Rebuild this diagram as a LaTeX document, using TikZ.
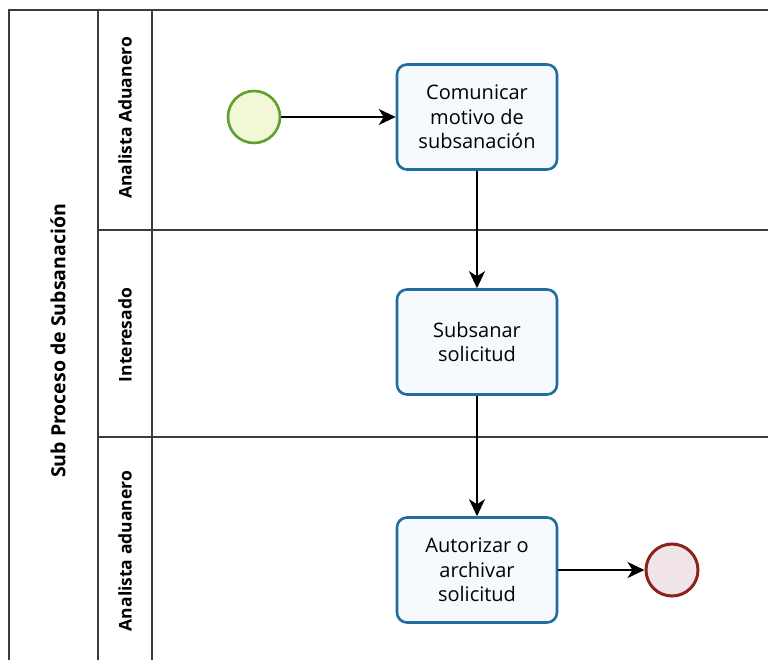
\documentclass[tikz,border=0pt]{standalone}
\usepackage{fontspec}
\setmainfont{Open Sans}
\usetikzlibrary{arrows.meta}
\definecolor{taskblue}{RGB}{30,110,160}
\definecolor{taskfill}{RGB}{246,250,253}
\definecolor{startgreen}{RGB}{95,160,45}
\definecolor{startfill}{RGB}{242,247,215}
\definecolor{endred}{RGB}{140,35,25}
\definecolor{endfill}{RGB}{240,228,232}
\definecolor{poolline}{RGB}{60,60,60}
\tikzset{
  poolline/.style={draw=poolline, line width=1.4pt},
  task/.style={draw=taskblue, fill=taskfill, line width=2.6pt, rounded corners=10pt,
    minimum width=160pt, minimum height=105pt, align=center,
    font=\fontsize{20}{24.5}\selectfont, inner sep=2pt},
  startev/.style={circle, draw=startgreen, fill=startfill, line width=2.6pt, minimum size=52pt, inner sep=0pt},
  endev/.style={circle, draw=endred, fill=endfill, line width=3pt, minimum size=52pt, inner sep=0pt},
  flow/.style={draw=black, line width=1.8pt, -{Stealth[length=17pt,width=16pt,inset=5pt]}},
  lanelabel/.style={rotate=90, font=\bfseries\fontsize{17.5}{20}\selectfont},
  poollabel/.style={rotate=90, font=\bfseries\fontsize{19.5}{22}\selectfont},
}
\begin{document}
\begin{tikzpicture}[x=1pt,y=-1pt]
\useasboundingbox (0,0) rectangle (768,660);
\fill[white] (0,0) rectangle (768,660);
% pool frame
\draw[poolline] (9,660) -- (9,10) -- (768,10);
\draw[poolline] (98,10) -- (98,660);
\draw[poolline] (152,10) -- (152,660);
\draw[poolline] (98,230) -- (768,230);
\draw[poolline] (98,437) -- (768,437);
% labels
\node[poollabel] (pool) at (58,341) {Sub Proceso de Subsanación};
\node[lanelabel] (l1) at (125,118) {Analista Aduanero};
\node[lanelabel] (l2) at (125,335) {Interesado};
\node[lanelabel] (l3) at (125,551) {Analista aduanero};
% elements
\node[startev] (start) at (254,117) {};
\node[task] (t1) at (477,117) {Comunicar\\motivo de\\subsanación};
\node[task] (t2) at (477,342) {Subsanar\\solicitud};
\node[task] (t3) at (477,570) {Autorizar o\\archivar\\solicitud};
\node[endev] (end) at (672,570) {};
% flows
\draw[flow] (start) -- (t1);
\draw[flow] (t1) -- (t2);
\draw[flow] (t2) -- (t3);
\draw[flow] (t3) -- (end);
\end{tikzpicture}
\end{document}
